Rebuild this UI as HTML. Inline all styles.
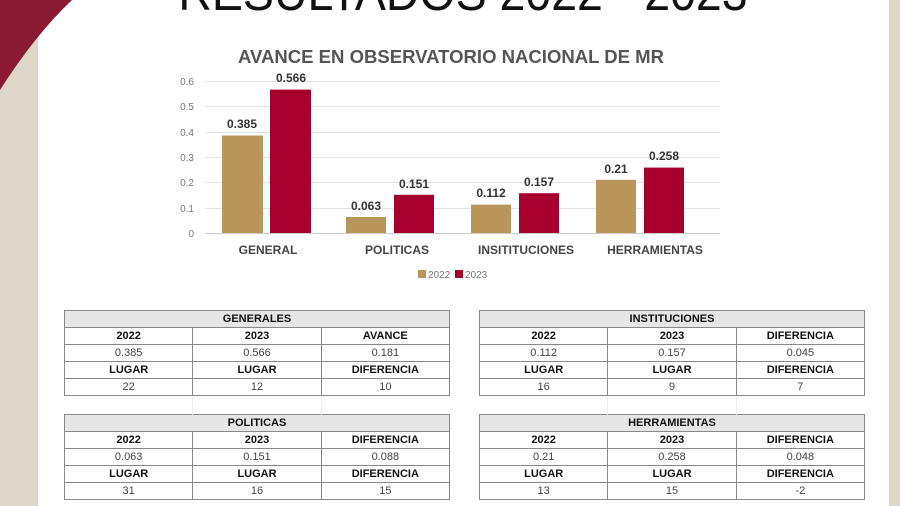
<!DOCTYPE html>
<html><head><meta charset="utf-8"><style>
body{margin:0;width:900px;height:506px;position:relative;overflow:hidden;background:#fff;font-family:"Liberation Sans",sans-serif}
.t{position:absolute;border-collapse:collapse;font-size:11px;color:#444;table-layout:fixed}
.t td{border:1px solid #888;height:16px;padding:0;text-align:center;line-height:16px}
.t td.h{background:#e6e6e6;font-weight:bold;color:#111}
.t td.b{font-weight:bold;color:#111}
.t td.e{border:none;border-left:1px solid #eee;height:16px}
</style></head><body>
<svg width="900" height="506" style="position:absolute;left:0;top:0">
<rect x="0" y="0" width="38" height="506" fill="#ded6c9"/>
<rect x="889" y="0" width="11" height="506" fill="#ded6c9"/>
<path d="M0,0 L72,0 Q35,35 0,90 Z" fill="#8a1a33"/>
<text x="0" y="10" font-size="50" text-anchor="middle" fill="#111" font-family="Liberation Sans" transform="translate(463,0) scale(0.93,1)">RESULTADOS 2022 - 2023</text>
<text x="0" y="63" font-size="18" font-weight="bold" text-anchor="middle" fill="#555" font-family="Liberation Sans" transform="translate(451,0) scale(1.03,1)">AVANCE EN OBSERVATORIO NACIONAL DE MR</text>
<g stroke="#e3e3e3" stroke-width="1">
<line x1="205" x2="720" y1="81.5" y2="81.5"/><line x1="205" x2="720" y1="106.5" y2="106.5"/><line x1="205" x2="720" y1="132.5" y2="132.5"/><line x1="205" x2="720" y1="157.5" y2="157.5"/><line x1="205" x2="720" y1="182.5" y2="182.5"/><line x1="205" x2="720" y1="208.5" y2="208.5"/>
</g>
<line x1="205" x2="720" y1="233.5" y2="233.5" stroke="#ccc"/>
<g font-size="10" fill="#777" text-anchor="end" font-family="Liberation Sans">
<text x="194" y="85">0.6</text><text x="194" y="110">0.5</text><text x="194" y="136">0.4</text><text x="194" y="161">0.3</text><text x="194" y="186">0.2</text><text x="194" y="212">0.1</text><text x="194" y="237">0</text>
</g>
<g fill="#b8955a">
<rect x="222" y="135.5" width="41" height="97.5"/><rect x="346" y="217" width="40" height="16"/><rect x="471" y="204.6" width="40" height="28.4"/><rect x="596" y="179.8" width="40" height="53.2"/>
</g>
<g fill="#a8002e">
<rect x="270" y="89.6" width="41" height="143.4"/><rect x="394" y="194.8" width="40" height="38.2"/><rect x="519" y="193.2" width="40" height="39.8"/><rect x="644" y="167.6" width="40" height="65.4"/>
</g>
<g font-size="12" font-weight="bold" fill="#333" text-anchor="middle" font-family="Liberation Sans">
<text x="242" y="128">0.385</text><text x="291" y="82">0.566</text>
<text x="366" y="210">0.063</text><text x="414" y="188">0.151</text>
<text x="491" y="197">0.112</text><text x="539" y="186">0.157</text>
<text x="616" y="173">0.21</text><text x="664" y="160">0.258</text>
<text x="268" y="254" fill="#444">GENERAL</text><text x="397" y="254" fill="#444">POLITICAS</text><text x="526" y="254" fill="#444">INSITITUCIONES</text><text x="655" y="254" fill="#444">HERRAMIENTAS</text>
</g>
<rect x="418" y="270" width="8" height="8" fill="#b8955a"/><text x="428" y="278" font-size="10" fill="#777">2022</text>
<rect x="455" y="270" width="8" height="8" fill="#a8002e"/><text x="465" y="278" font-size="10" fill="#777">2023</text>
</svg>

<table class="t" style="left:64px;top:310px;width:386px">
<tr><td colspan="3" class="h">GENERALES</td></tr>
<tr><td class="b">2022</td><td class="b">2023</td><td class="b">AVANCE</td></tr>
<tr><td>0.385</td><td>0.566</td><td>0.181</td></tr>
<tr><td class="b">LUGAR</td><td class="b">LUGAR</td><td class="b">DIFERENCIA</td></tr>
<tr><td>22</td><td>12</td><td>10</td></tr>
<tr><td class="e" style="border-left:none;height:18px"></td><td class="e"></td><td class="e"></td></tr>
<tr><td colspan="3" class="h">POLITICAS</td></tr>
<tr><td class="b">2022</td><td class="b">2023</td><td class="b">DIFERENCIA</td></tr>
<tr><td>0.063</td><td>0.151</td><td>0.088</td></tr>
<tr><td class="b">LUGAR</td><td class="b">LUGAR</td><td class="b">DIFERENCIA</td></tr>
<tr><td>31</td><td>16</td><td>15</td></tr>
</table>
<table class="t" style="left:479px;top:310px;width:386px">
<tr><td colspan="3" class="h">INSTITUCIONES</td></tr>
<tr><td class="b">2022</td><td class="b">2023</td><td class="b">DIFERENCIA</td></tr>
<tr><td>0.112</td><td>0.157</td><td>0.045</td></tr>
<tr><td class="b">LUGAR</td><td class="b">LUGAR</td><td class="b">DIFERENCIA</td></tr>
<tr><td>16</td><td>9</td><td>7</td></tr>
<tr><td class="e" style="border-left:none;height:18px"></td><td class="e"></td><td class="e"></td></tr>
<tr><td colspan="3" class="h">HERRAMIENTAS</td></tr>
<tr><td class="b">2022</td><td class="b">2023</td><td class="b">DIFERENCIA</td></tr>
<tr><td>0.21</td><td>0.258</td><td>0.048</td></tr>
<tr><td class="b">LUGAR</td><td class="b">LUGAR</td><td class="b">DIFERENCIA</td></tr>
<tr><td>13</td><td>15</td><td>-2</td></tr>
</table>
</body></html>
